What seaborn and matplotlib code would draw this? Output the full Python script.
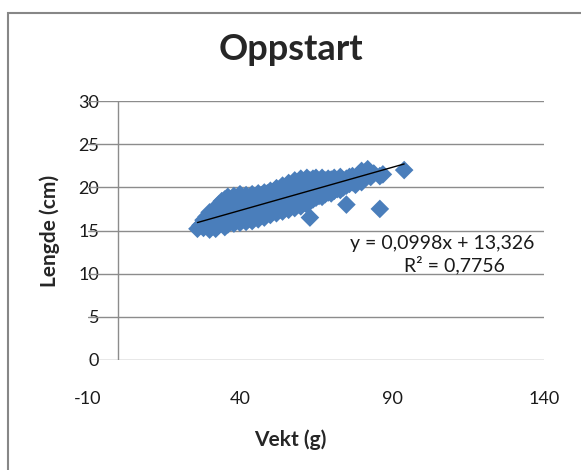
import matplotlib
matplotlib.use("Agg")
import matplotlib.pyplot as plt
import numpy as np
import pandas as pd
import seaborn as sns
from matplotlib.patches import Rectangle

# weight (g) and length (cm)
vekt = [
    26, 27, 28, 28, 29, 29, 30, 30, 30, 30, 31, 31, 31, 32, 32, 32, 32,
    33, 33, 33, 33, 34, 34, 34, 34, 35, 35, 35, 35, 35, 36, 36, 36, 36, 36,
    37, 37, 37, 37, 38, 38, 38, 38, 38, 39, 39, 39, 39, 40, 40, 40, 40, 40, 40,
    41, 41, 41, 41, 42, 42, 42, 42, 42, 43, 43, 43, 43, 44, 44, 44, 44, 44,
    45, 45, 45, 45, 46, 46, 46, 46, 46, 47, 47, 47, 47, 48, 48, 48, 48, 48,
    49, 49, 49, 49, 50, 50, 50, 50, 50, 51, 51, 51, 51, 52, 52, 52, 52, 52,
    53, 53, 53, 53, 54, 54, 54, 54, 54, 55, 55, 55, 55, 56, 56, 56, 56, 56,
    57, 57, 57, 57, 58, 58, 58, 58, 58, 59, 59, 59, 59, 60, 60, 60, 60, 60,
    61, 61, 61, 61, 62, 62, 62, 62, 62, 63, 63, 63, 63, 63, 64, 64, 64, 64,
    65, 65, 65, 65, 66, 66, 66, 67, 67, 67, 67, 68, 68, 68, 69, 69, 69,
    70, 70, 70, 71, 71, 71, 72, 72, 73, 73, 73, 74, 74, 75, 75, 75, 76, 76,
    77, 77, 78, 78, 79, 79, 80, 80, 80, 81, 81, 82, 83, 84, 86, 86, 87, 94,
]
lengde = [
    15.2, 15.6, 15.3, 16.2, 15.8, 16.6, 15.1, 15.9, 16.5, 17.1, 15.5, 16.3, 17.0,
    15.2, 16.0, 16.8, 17.5, 15.6, 16.4, 17.2, 18.0, 15.9, 16.7, 17.6, 18.4,
    15.4, 16.2, 17.0, 17.8, 18.6, 15.7, 16.5, 17.3, 18.2, 18.9,
    16.0, 16.9, 17.7, 18.5, 15.8, 16.6, 17.4, 18.2, 19.0, 16.2, 17.0, 17.8, 18.7,
    15.9, 16.6, 17.3, 18.0, 18.8, 19.2, 16.3, 17.1, 17.9, 18.6,
    16.0, 16.8, 17.6, 18.4, 19.1, 16.4, 17.2, 18.0, 18.8,
    16.1, 16.9, 17.7, 18.5, 19.2, 16.6, 17.4, 18.2, 18.9,
    16.3, 17.1, 17.9, 18.7, 19.3, 16.8, 17.6, 18.4, 19.1,
    16.5, 17.3, 18.1, 18.9, 19.4, 17.0, 17.8, 18.6, 19.3,
    16.8, 17.5, 18.3, 19.0, 19.6, 17.2, 18.0, 18.8, 19.5,
    17.0, 17.8, 18.6, 19.3, 19.9, 17.4, 18.2, 19.0, 19.8,
    17.2, 18.0, 18.8, 19.6, 20.2, 17.6, 18.4, 19.2, 20.0,
    17.4, 18.2, 19.0, 19.8, 20.5, 17.8, 18.6, 19.4, 20.2,
    17.6, 18.4, 19.2, 20.0, 20.8, 18.0, 18.8, 19.6, 20.5,
    17.8, 18.6, 19.4, 20.2, 21.0, 18.2, 19.0, 19.8, 20.6,
    18.0, 18.8, 19.6, 20.4, 21.1, 16.5, 18.4, 19.2, 20.0, 20.8,
    18.6, 19.4, 20.2, 21.0, 18.8, 19.6, 20.4, 21.1, 19.0, 19.8, 20.6,
    18.9, 19.7, 20.5, 21.1, 19.2, 20.0, 20.8, 19.4, 20.2, 21.0,
    19.3, 20.1, 20.9, 19.6, 20.4, 21.1, 19.8, 20.6, 19.7, 20.5, 21.2,
    20.0, 20.8, 18.0, 20.2, 21.0, 20.4, 21.2,
    20.6, 21.3, 20.3, 21.0, 20.8, 21.5, 20.6, 21.4, 21.9, 21.0, 21.7,
    22.1, 21.2, 21.6, 17.5, 21.3, 21.5, 22.0,
]

# trendline shown in the chart
slope = 0.0998
intercept = 13.326

x_ticks = [-10, 40, 90, 140]
y_ticks = [0, 5, 10, 15, 20, 25, 30]

df = pd.DataFrame({"Vekt": vekt, "Lengde": lengde})

sns.set_style("white")
plt.rcParams["font.family"] = ["Lato", "DejaVu Sans"]
plt.rcParams["axes.unicode_minus"] = False

fig = plt.figure(figsize=(5.81, 4.70), dpi=100)
ax = fig.add_axes([88 / 581, 1 - 360 / 470, 456 / 581, 259 / 470])

# outer chart frame
fig.patches.append(Rectangle((8 / 581, -0.05), 1.1, 1 - 13 / 470 + 0.05,
                             transform=fig.transFigure, fill=False,
                             edgecolor="#878787", linewidth=1.5))

sns.scatterplot(data=df, x="Vekt", y="Lengde", ax=ax, marker="D", s=90,
                color="#4a7ebb", edgecolor="none", linewidth=0, zorder=3)

xs = np.array([min(vekt), max(vekt)])
ax.plot(xs, slope * xs + intercept, color="black", linewidth=1, zorder=4)

ax.set_xlim(-10, 140)
ax.set_ylim(0, 30)
ax.set_xticks(x_ticks)
ax.set_yticks(y_ticks)
for s in ax.spines.values():
    s.set_visible(False)
for t in y_ticks:
    ax.axhline(t, color="#8c8c8c", linewidth=1, zorder=1)
ax.axvline(0, color="#8c8c8c", linewidth=1, zorder=1)

ax.tick_params(axis="both", length=0, labelsize=13, colors="#1a1a1a")
ax.tick_params(axis="x", pad=22)
ax.tick_params(axis="y", pad=-8)

ax.set_xlabel("Vekt (g)", fontsize=15, fontweight="bold", va="center")
ax.set_ylabel("Lengde (cm)", fontsize=15, fontweight="bold", va="center")
ax.xaxis.set_label_coords((290 - 88) / 456, (360 - 440) / 259)
ax.yaxis.set_label_coords((50 - 88) / 456, (360 - 231) / 259)
fig.text(0.5, 1 - 50 / 470, "Oppstart", ha="center", va="center",
         fontsize=26, fontweight="bold")

ax.text(442 / 581, 1 - 243 / 470, "y = 0,0998x + 13,326", transform=fig.transFigure,
        ha="center", va="center", fontsize=14, color="#1a1a1a")
ax.text(454 / 581, 1 - 265 / 470, "R² = 0,7756", transform=fig.transFigure,
        ha="center", va="center", fontsize=14, color="#1a1a1a")

fig.savefig("out.png", dpi=100)
